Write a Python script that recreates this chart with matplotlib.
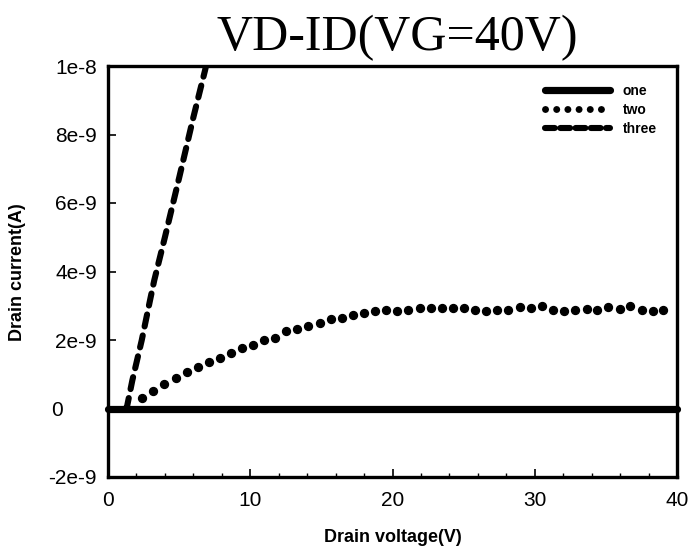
import matplotlib
matplotlib.use('Agg')
import matplotlib.pyplot as plt
from matplotlib.lines import Line2D
from matplotlib.ticker import MultipleLocator, FixedLocator
import matplotlib.transforms as mtransforms

# series "one": flat at zero across the whole sweep
one_v = [0, 2, 4, 6, 8, 10, 12, 14, 16, 18, 20, 22, 24, 26, 28, 30, 32, 34, 36, 38, 40]
one_i = [0.0] * len(one_v)

# series "two" (values in 1e-9 A)
two_v = [2.38, 3.17, 3.96, 4.75, 5.52, 6.31, 7.08, 7.84, 8.66, 9.40, 10.19, 10.98,
         11.72, 12.54, 13.31, 14.07, 14.92, 15.66, 16.45, 17.24, 18.01, 18.80,
         19.54, 20.33, 21.12, 21.91, 22.68, 23.47, 24.24, 25.03, 25.82, 26.59,
         27.38, 28.15, 28.94, 29.73, 30.50, 31.29, 32.05, 32.85, 33.64, 34.38,
         35.17, 35.96, 36.70, 37.52, 38.28, 39.05]
two_i = [0.31, 0.52, 0.72, 0.90, 1.06, 1.22, 1.37, 1.47, 1.61, 1.76, 1.86, 1.99,
         2.06, 2.25, 2.32, 2.41, 2.50, 2.60, 2.65, 2.74, 2.80, 2.84, 2.89, 2.84,
         2.89, 2.92, 2.94, 2.94, 2.94, 2.94, 2.89, 2.86, 2.89, 2.89, 2.97, 2.92,
         2.99, 2.89, 2.86, 2.89, 2.91, 2.89, 2.97, 2.91, 2.99, 2.89, 2.86, 2.89]

# series "three" (values in 1e-9 A), runs off the top of the plot
three_v = [1.2, 1.31, 1.71, 2.37, 3.0, 3.25, 4.0, 5.01, 6.0, 6.82, 7.5]
three_i = [0.0, 0.0, 0.82, 1.99, 3.25, 3.74, 5.0, 6.75, 8.5, 9.87, 11.1]

y_ticks = [-2, 0, 2, 4, 6, 8, 10]
y_labels = ['-2e-9', '0', '2e-9', '4e-9', '6e-9', '8e-9', '1e-8']
x_ticks = [0, 10, 20, 30, 40]

plt.rcParams['font.family'] = ['Liberation Sans', 'DejaVu Sans']

fig = plt.figure(figsize=(6.89, 5.5), dpi=100)
ax = fig.add_axes([108 / 689, 1 - 477 / 550, 569 / 689, 411 / 550])

ax.plot(one_v, one_i, color='black', lw=5.2, solid_capstyle='round', zorder=3,
        clip_on=False)
ax.plot(two_v, two_i, ls='none', marker='o', ms=5.7, color='black', zorder=3)
ax.plot(three_v, three_i, color='black', lw=4.4, dashes=(2.0, 1.5),
        dash_capstyle='round', zorder=3)

ax.set_xlim(0, 40)
ax.set_ylim(-2, 10)
ax.xaxis.set_major_locator(FixedLocator(x_ticks))
ax.xaxis.set_minor_locator(MultipleLocator(2))
ax.set_yticks(y_ticks)
ax.set_yticklabels(y_labels)

ax.tick_params(axis='both', which='major', direction='in', length=6, width=1.2,
               labelsize=15, pad=8)
ax.tick_params(axis='x', which='minor', direction='in', length=3, width=1)
ax.tick_params(axis='x', which='major', pad=10)

for s in ax.spines.values():
    s.set_linewidth(2.4)

# the zero label sits left of the others
for lab in ax.get_yticklabels():
    if lab.get_text() == '0':
        lab.set_transform(lab.get_transform() +
                          mtransforms.ScaledTranslation(-0.34, 0, fig.dpi_scale_trans))

handles = [
    Line2D([0], [0], color='black', lw=5.2, solid_capstyle='round'),
    Line2D([0], [0], color='black', lw=5.0, dashes=(0.01, 1.6), dash_capstyle='round'),
    Line2D([0], [0], color='black', lw=4.4, dashes=(1.6, 0.9), dash_capstyle='round'),
]
ax.legend(handles, ['one', 'two', 'three'], loc='upper left',
          bbox_to_anchor=((545 - 108) / 569, (477 - 84) / 411),
          frameon=False, borderpad=0, borderaxespad=0, handlelength=4.7,
          handletextpad=0.9, labelspacing=0.35,
          prop={'weight': 'bold', 'size': 10})

fig.text(397 / 689, 1 - 50 / 550, 'VD-ID(VG=40V)', family='Liberation Serif',
         fontsize=36, ha='center', va='baseline')
fig.text(393 / 689, 1 - 537 / 550, 'Drain voltage(V)', fontsize=13, weight='bold',
         ha='center', va='center')
fig.text(18 / 689, 1 - 272 / 550, 'Drain current(A)', fontsize=13, weight='bold',
         ha='center', va='center', rotation=90)

plt.savefig('out.png', dpi=100)
plt.close()
